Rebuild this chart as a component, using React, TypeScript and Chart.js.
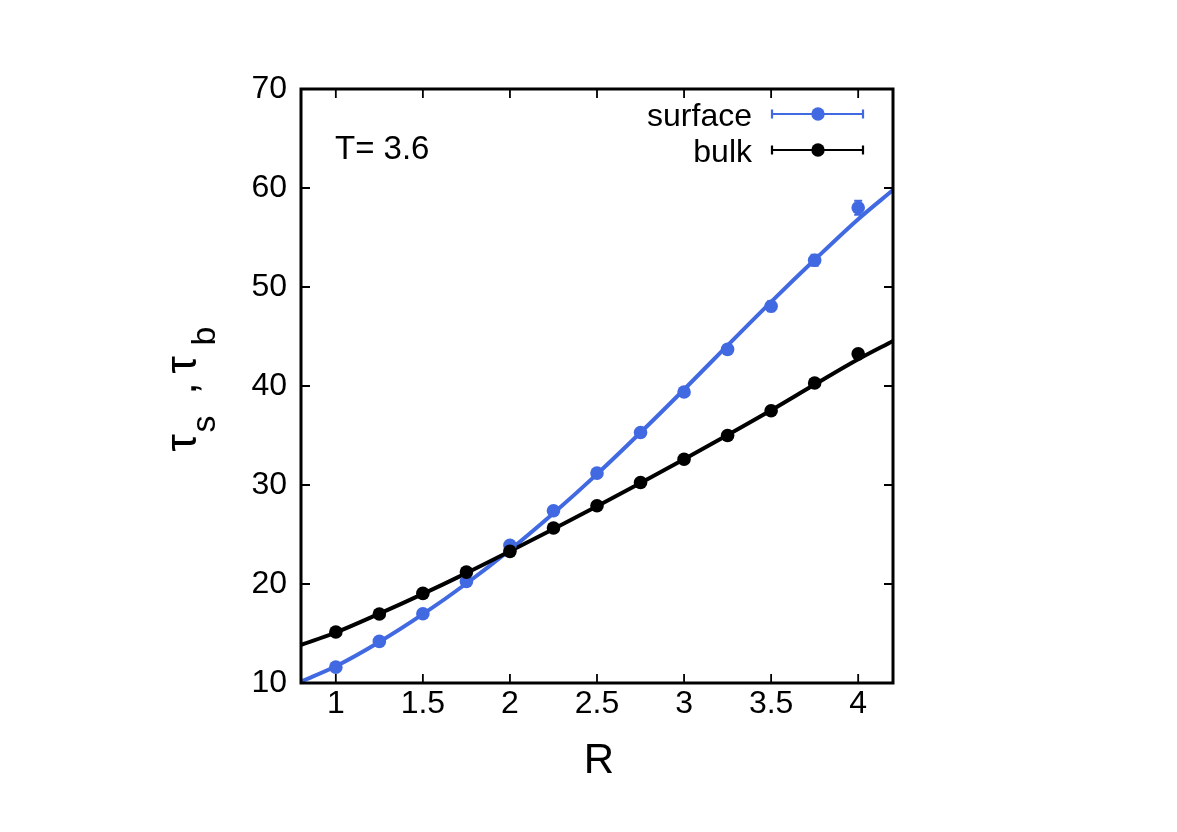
import React, { useEffect, useRef } from "react";
import { Chart, registerables } from "chart.js";
Chart.register(...registerables);

const R = [1, 1.25, 1.5, 1.75, 2, 2.25, 2.5, 2.75, 3, 3.25, 3.5, 3.75, 4];
const surface = [11.6, 14.2, 17.0, 20.25, 23.9, 27.4, 31.2, 35.3, 39.4, 43.7, 48.05, 52.7, 58.0];
const surfaceErr = [0.15, 0.15, 0.2, 0.2, 0.25, 0.3, 0.3, 0.35, 0.4, 0.45, 0.5, 0.55, 0.7];
const bulk = [15.15, 16.97, 19.05, 21.2, 23.3, 25.65, 27.9, 30.25, 32.6, 35.0, 37.5, 40.3, 43.25];
const bulkErr = [0.1, 0.1, 0.1, 0.1, 0.1, 0.12, 0.12, 0.15, 0.15, 0.18, 0.2, 0.25, 0.3];
const fitR = [0.8, 1, 1.25, 1.5, 1.75, 2, 2.25, 2.5, 2.75, 3, 3.25, 3.5, 3.75, 4, 4.2];
const surfaceFit = [10.15, 11.7, 14.15, 16.95, 20.05, 23.45, 27.15, 31.1, 35.3, 39.65, 44.1, 48.5, 52.75, 56.85, 59.8];
const bulkFit = [13.85, 15.1, 17.0, 19.0, 21.1, 23.3, 25.55, 27.85, 30.2, 32.6, 35.05, 37.55, 40.15, 42.7, 44.55];
const xTicks = [1, 1.5, 2, 2.5, 3, 3.5, 4];
const xTickLabels = ["1", "1.5", "2", "2.5", "3", "3.5", "4"];
const yTicks = [10, 20, 30, 40, 50, 60, 70];
const yTickLabels = ["10", "20", "30", "40", "50", "60", "70"];
const seriesNames = ["surface", "bulk"];
const annotation = "T= 3.6";

const BLUE = "#4169e1";
const BLACK = "#000000";
const FONT = "'Liberation Sans', Arial, Helvetica, sans-serif";

const decorPlugin = {
  id: "decor",
  beforeDatasetsDraw(chart: any) {
    const ctx = chart.ctx;
    const xs = chart.scales.x;
    const ys = chart.scales.y;
    const drawErr = (vals: number[], errs: number[], color: string) => {
      ctx.save();
      ctx.strokeStyle = color;
      ctx.lineWidth = 2;
      vals.forEach((v, i) => {
        const px = xs.getPixelForValue(R[i]);
        const y1 = ys.getPixelForValue(v - errs[i]);
        const y2 = ys.getPixelForValue(v + errs[i]);
        ctx.beginPath();
        ctx.moveTo(px, y1);
        ctx.lineTo(px, y2);
        ctx.moveTo(px - 4, y1);
        ctx.lineTo(px + 4, y1);
        ctx.moveTo(px - 4, y2);
        ctx.lineTo(px + 4, y2);
        ctx.stroke();
      });
      ctx.restore();
    };
    drawErr(bulk, bulkErr, BLACK);
    drawErr(surface, surfaceErr, BLUE);
  },
  afterDraw(chart: any) {
    const ctx = chart.ctx;
    const a = chart.chartArea;
    const xs = chart.scales.x;
    const ys = chart.scales.y;
    ctx.save();
    // frame
    ctx.strokeStyle = BLACK;
    ctx.lineWidth = 3;
    ctx.strokeRect(a.left, a.top, a.right - a.left, a.bottom - a.top);
    // ticks
    ctx.lineWidth = 1.8;
    const tl = 9;
    ctx.beginPath();
    xTicks.forEach((t) => {
      const px = xs.getPixelForValue(t);
      ctx.moveTo(px, a.bottom);
      ctx.lineTo(px, a.bottom - tl);
      ctx.moveTo(px, a.top);
      ctx.lineTo(px, a.top + tl);
    });
    yTicks.forEach((t) => {
      const py = ys.getPixelForValue(t);
      ctx.moveTo(a.left, py);
      ctx.lineTo(a.left + tl, py);
      ctx.moveTo(a.right, py);
      ctx.lineTo(a.right - tl, py);
    });
    ctx.stroke();

    // annotation
    ctx.fillStyle = BLACK;
    ctx.font = `33px ${FONT}`;
    ctx.textAlign = "left";
    ctx.textBaseline = "alphabetic";
    ctx.fillText(annotation, 335, 159);

    // legend
    const legendItems = [
      { name: seriesNames[0], color: BLUE, y: 114 },
      { name: seriesNames[1], color: BLACK, y: 150 },
    ];
    legendItems.forEach((it) => {
      ctx.fillStyle = BLACK;
      ctx.textAlign = "right";
      ctx.font = `32px ${FONT}`;
      ctx.fillText(it.name, 752, it.y + 11.5);
      ctx.strokeStyle = it.color;
      ctx.lineWidth = 2.2;
      ctx.beginPath();
      ctx.moveTo(772, it.y);
      ctx.lineTo(863, it.y);
      ctx.moveTo(772, it.y - 4.5);
      ctx.lineTo(772, it.y + 4.5);
      ctx.moveTo(863, it.y - 4.5);
      ctx.lineTo(863, it.y + 4.5);
      ctx.stroke();
      ctx.fillStyle = it.color;
      ctx.beginPath();
      ctx.arc(818, it.y, 6.7, 0, Math.PI * 2);
      ctx.fill();
    });

    // x title
    ctx.fillStyle = BLACK;
    ctx.textAlign = "center";
    ctx.font = `42px ${FONT}`;
    ctx.fillText("R", (a.left + a.right) / 2 + 2, 773);

    // y title with subscripts, rotated
    ctx.save();
    ctx.translate(196, 386.5);
    ctx.rotate(-Math.PI / 2);
    ctx.textAlign = "left";
    const segs = [
      { t: "τ", size: 44, dx: -65, dy: 0 },
      { t: "s", size: 34, dx: -46, dy: 19 },
      { t: ",", size: 44, dx: -8, dy: 0 },
      { t: "τ", size: 44, dx: 13, dy: 0 },
      { t: "b", size: 34, dx: 41, dy: 19 },
    ];
    segs.forEach((s) => {
      ctx.font = `${s.size}px ${FONT}`;
      ctx.fillText(s.t, s.dx, s.dy);
    });
    ctx.restore();
    ctx.restore();
  },
};

export default function App() {
  const ref = useRef<HTMLCanvasElement | null>(null);
  useEffect(() => {
    if (!ref.current) return;
    const chart = new Chart(ref.current, {
      type: "scatter",
      data: {
        datasets: [
          {
            label: seriesNames[1] + " points",
            data: R.map((r, i) => ({ x: r, y: bulk[i] })),
            showLine: false,
            pointRadius: 6.8,
            pointBackgroundColor: BLACK,
            pointBorderWidth: 0,
            borderColor: BLACK,
          },
          {
            label: seriesNames[0] + " points",
            data: R.map((r, i) => ({ x: r, y: surface[i] })),
            showLine: false,
            pointRadius: 6.8,
            pointBackgroundColor: BLUE,
            pointBorderWidth: 0,
            borderColor: BLUE,
          },
          {
            type: "line",
            label: seriesNames[1] + " fit",
            data: fitR.map((r, i) => ({ x: r, y: bulkFit[i] })),
            borderColor: BLACK,
            borderWidth: 4,
            pointRadius: 0,
            cubicInterpolationMode: "monotone",
            fill: false,
          } as any,
          {
            type: "line",
            label: seriesNames[0] + " fit",
            data: fitR.map((r, i) => ({ x: r, y: surfaceFit[i] })),
            borderColor: BLUE,
            borderWidth: 4,
            pointRadius: 0,
            cubicInterpolationMode: "monotone",
            fill: false,
          } as any,
        ],
      },
      options: {
        animation: false,
        responsive: false,
        events: [],
        layout: { padding: { left: 0, right: 284, top: 89, bottom: 0 } },
        plugins: { legend: { display: false }, tooltip: { enabled: false } },
        scales: {
          x: {
            type: "linear",
            min: 0.8,
            max: 4.2,
            grid: { display: false, drawTicks: false },
            border: { display: false },
            afterBuildTicks: (s: any) => {
              s.ticks = xTicks.map((v) => ({ value: v }));
            },
            afterFit: (s: any) => {
              s.height = 149;
            },
            ticks: {
              padding: 2,
              color: BLACK,
              font: { size: 32, family: FONT },
              maxRotation: 0,
              autoSkip: false,
              callback: (v: any) => {
                const i = xTicks.indexOf(Number(v));
                return i >= 0 ? xTickLabels[i] : "";
              },
            },
          },
          y: {
            type: "linear",
            min: 10,
            max: 70,
            grid: { display: false, drawTicks: false },
            border: { display: false },
            afterBuildTicks: (s: any) => {
              s.ticks = yTicks.map((v) => ({ value: v }));
            },
            afterFit: (s: any) => {
              s.width = 301;
            },
            ticks: {
              padding: 14,
              color: BLACK,
              font: { size: 32, family: FONT },
              autoSkip: false,
              callback: (v: any) => {
                const i = yTicks.indexOf(Number(v));
                return i >= 0 ? yTickLabels[i] : "";
              },
            },
          },
        },
      },
      plugins: [decorPlugin],
    });
    return () => chart.destroy();
  }, []);
  return (
    <div style={{ position: "absolute", left: 0, top: 0, width: 1177, height: 832, background: "#fff" }}>
      <canvas ref={ref} width={1177} height={832} style={{ width: 1177, height: 832, display: "block" }} />
    </div>
  );
}
